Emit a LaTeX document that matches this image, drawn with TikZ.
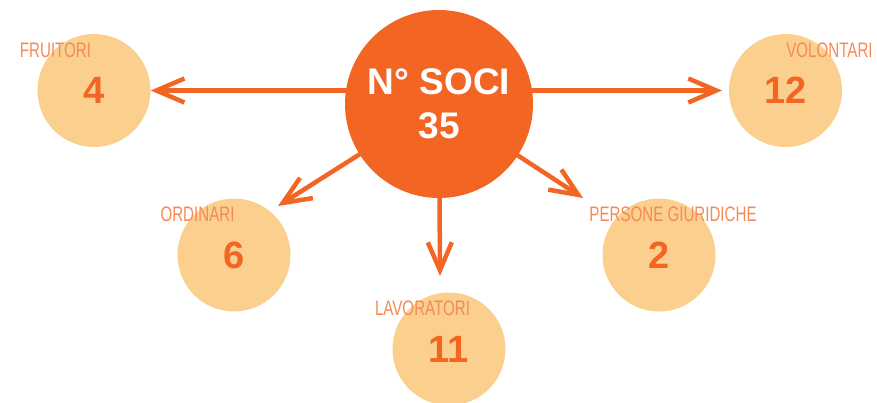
\documentclass[tikz,border=0pt]{standalone}
\usepackage{fontspec}
\setmainfont{Liberation Sans}
\newfontfamily\lblfont[FakeStretch=0.72]{Liberation Sans}
\usetikzlibrary{arrows.meta,backgrounds}
\definecolor{org}{HTML}{F26522}
\definecolor{pale}{HTML}{FBCF8E}
\definecolor{lbl}{HTML}{F68A55}
\tikzset{
 mainc/.style={circle,fill=org,minimum size=188pt,inner sep=0pt,text=white,font=\fontsize{37}{44}\selectfont\bfseries,align=center},
 subc/.style={circle,fill=pale,minimum size=113pt,inner sep=0pt,text=org,font=\fontsize{38}{44}\selectfont\bfseries},
 lab/.style={anchor=base,text=lbl,font=\lblfont\fontsize{21}{21}\selectfont,inner sep=0pt},
 arr/.style={draw=org,line width=4.5pt,-{Straight Barb[length=28pt,width=24pt]}}
}
\begin{document}
\begin{tikzpicture}[x=1pt,y=-1pt]
\useasboundingbox (0,0) rectangle (877,402);
\clip (0,0) rectangle (877,402);
\node[mainc] (soci) at (439,104) {N° SOCI\\35};
\node[subc] (fru) at (94,90.5) {4};
\node[subc] (vol) at (785.5,90.5) {12};
\node[subc] (ord) at (234,255) {6};
\node[subc] (per) at (659,255) {2};
\node[subc] (lav) at (449,349) {11};
\node[lab] (lfru) at (55.5,57) {FRUITORI};
\node[lab] (lvol) at (829.5,57) {VOLONTARI};
\node[lab] (lord) at (197.5,221) {ORDINARI};
\node[lab] (lper) at (673,221) {PERSONE GIURIDICHE};
\node[lab] (llav) at (422.5,315) {LAVORATORI};
\coordinate (tord) at (278,206);
\coordinate (tper) at (583,198);
\coordinate (tlav) at (440,276);
\coordinate (tvol) at (722,90.5);
\begin{scope}[on background layer]
\draw[arr] (soci.center |- fru.east) -- (fru.east);
\draw[arr] (soci.center |- vol.west) -- (tvol);
\draw[arr] (soci.center) -- (tord);
\draw[arr] (soci.center) -- (tper);
\draw[arr] (soci.center) -- (tlav);
\end{scope}
\end{tikzpicture}
\end{document}
